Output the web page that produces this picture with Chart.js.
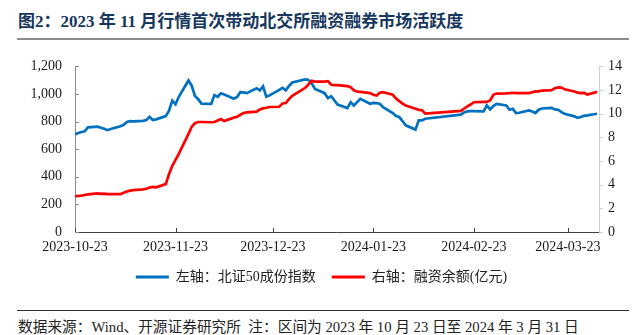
<!DOCTYPE html>
<html>
<head>
<meta charset="utf-8">
<script src="https://cdn.jsdelivr.net/npm/chart.js@4.4.1/dist/chart.umd.min.js"></script>
<style>
  html, body { margin: 0; padding: 0; background: #fff; }
  body { width: 643px; height: 335px; position: relative; overflow: hidden; }
  .title {
    position: absolute; left: 18px; top: 7px;
    font: bold 17px 'Liberation Serif', 'Noto Sans CJK SC', serif;
    color: #17375e; white-space: nowrap;
  }
  .rule-top { position: absolute; left: 17px; top: 38px; width: 612px; height: 2px; background: #8c8c8c; }
  .chart-box { position: absolute; left: 0; top: 45px; width: 643px; height: 249px; }
  .rule-bottom { position: absolute; left: 17px; top: 310px; width: 612px; height: 1px; background: #333; }
  .source {
    position: absolute; left: 18px; top: 315px;
    font: 14.7px 'Liberation Serif', 'Noto Sans CJK SC', serif;
    color: #222; white-space: nowrap;
  }
</style>
</head>
<body>
<div class="title">图2：2023 年 11 月行情首次带动北交所融资融券市场活跃度</div>
<div class="rule-top"></div>
<div class="chart-box"><canvas id="bjChart"></canvas></div>
<div class="rule-bottom"></div>
<div class="source">数据来源：Wind、开源证券研究所&nbsp;&nbsp;注：区间为 2023 年 10 月 23 日至 2024 年 3 月 31 日</div>

<script>
// trading days (the Spring Festival break leaves a gap in February)
const tradeDates = [
    '2023-10-23', '2023-10-24', '2023-10-25', '2023-10-26', '2023-10-27', '2023-10-30', '2023-10-31',
    '2023-11-01', '2023-11-02', '2023-11-03', '2023-11-06', '2023-11-07', '2023-11-08', '2023-11-09', '2023-11-10',
    '2023-11-13', '2023-11-14', '2023-11-15', '2023-11-16', '2023-11-17', '2023-11-20', '2023-11-21', '2023-11-22',
    '2023-11-23', '2023-11-24', '2023-11-27', '2023-11-28', '2023-11-29', '2023-11-30',
    '2023-12-01', '2023-12-04', '2023-12-05', '2023-12-06', '2023-12-07', '2023-12-08', '2023-12-11', '2023-12-12',
    '2023-12-13', '2023-12-14', '2023-12-15', '2023-12-18', '2023-12-19', '2023-12-20', '2023-12-21', '2023-12-22',
    '2023-12-25', '2023-12-26', '2023-12-27', '2023-12-28', '2023-12-29',
    '2024-01-02', '2024-01-03', '2024-01-04', '2024-01-05', '2024-01-08', '2024-01-09', '2024-01-10', '2024-01-11',
    '2024-01-12', '2024-01-15', '2024-01-16', '2024-01-17', '2024-01-18', '2024-01-19', '2024-01-22', '2024-01-23',
    '2024-01-24', '2024-01-25', '2024-01-26', '2024-01-29', '2024-01-30', '2024-01-31',
    '2024-02-01', '2024-02-02', '2024-02-05', '2024-02-06', '2024-02-07', '2024-02-08', '2024-02-19', '2024-02-20',
    '2024-02-21', '2024-02-22', '2024-02-23', '2024-02-26', '2024-02-27', '2024-02-28', '2024-02-29',
    '2024-03-01', '2024-03-04', '2024-03-05', '2024-03-06', '2024-03-07', '2024-03-08', '2024-03-11', '2024-03-12',
    '2024-03-13', '2024-03-14', '2024-03-15', '2024-03-18', '2024-03-19', '2024-03-20', '2024-03-21', '2024-03-22',
    '2024-03-25', '2024-03-26', '2024-03-27', '2024-03-28', '2024-03-29', '2024-04-01'
];

// 北证50成份指数 (left axis)
const bj50Index = [
    707, 717, 725, 730, 758, 763, 756,
    748, 738, 746, 766, 777, 797, 803, 802, 805, 811, 834, 811, 816, 840, 879, 952, 925, 980, 1098, 1059, 986, 962,
    930, 928, 992, 980, 1005, 996, 966, 978, 1014, 1012, 1006, 1042, 1026, 1055, 980, 990, 1030, 1045, 1027, 1058, 1083,
    1106, 1102, 1078, 1037, 1006, 970, 984, 953, 924, 898, 941, 917, 941, 965, 929, 936, 934, 929, 905, 862, 840, 833,
    804, 773, 742, 809, 809, 821, 850, 866, 874, 876, 876, 874, 917, 888, 912,
    928, 917, 886, 893, 862, 864, 881, 874, 862, 886, 895, 900, 888, 886, 869, 857, 838, 828, 833, 842, 845, 857
];

// 融资余额, 亿元 (right axis)
const marginBalance = [
    3.03, 3.05, 3.08, 3.13, 3.18, 3.26, 3.23,
    3.25, 3.21, 3.20, 3.20, 3.32, 3.42, 3.50, 3.54, 3.60, 3.66, 3.76, 3.81, 3.78, 4.05, 4.90, 5.60, 6.10, 6.60, 8.30, 8.90, 9.20, 9.30,
    9.30, 9.28, 9.30, 9.43, 9.55, 9.38, 9.67, 9.75, 9.91, 10.06, 10.11, 10.18, 10.35, 10.45, 10.50, 10.57, 10.59, 10.87, 10.90, 11.23, 11.51,
    12.19, 12.47, 12.78, 12.72, 12.72, 12.75, 12.45, 12.42, 12.42, 12.33, 12.25, 11.98, 11.88, 11.85, 11.74, 11.60, 11.54, 11.78, 11.82, 11.60, 11.28, 11.06,
    10.85, 10.70, 10.42, 10.33, 10.30, 10.00, 10.24, 10.42, 10.62, 10.78, 10.97, 11.00, 11.00, 11.12, 11.60,
    11.70, 11.72, 11.74, 11.77, 11.74, 11.74, 11.74, 11.82, 11.89, 11.89, 11.96, 11.99, 12.16, 12.23, 12.21, 12.06, 11.88, 11.78, 11.74, 11.76, 11.62, 11.85
];

const tickLabels = ['2023-10-23', '2023-11-23', '2023-12-23', '2024-01-23', '2024-02-23', '2024-03-23'];
const legendNames = ['左轴：北证50成份指数', '右轴：融资余额(亿元)'];

const DAY = 864e5;
const dayOf = s => (Date.parse(s) - Date.parse(tradeDates[0])) / DAY;
const tickDays = tickLabels.map(dayOf);

const serif = "'Liberation Serif', 'Noto Sans CJK SC', serif";

// small tick marks: x and left axis point inward, right axis outward
const axisTicks = {
    id: 'axisTicks',
    afterDraw(chart) {
        const { ctx, chartArea, scales: { x, y, y1 } } = chart;
        ctx.save();
        ctx.lineWidth = 1;
        ctx.strokeStyle = '#404040';
        x.ticks.forEach(t => {
            const px = Math.round(x.getPixelForValue(t.value)) + 0.5;
            ctx.beginPath();
            ctx.moveTo(px, chartArea.bottom);
            ctx.lineTo(px, chartArea.bottom - 4);
            ctx.stroke();
        });
        ctx.strokeStyle = '#8a8a8a';
        y.ticks.forEach(t => {
            const py = Math.round(y.getPixelForValue(t.value)) + 0.5;
            ctx.beginPath();
            ctx.moveTo(chartArea.left, py);
            ctx.lineTo(chartArea.left + 4, py);
            ctx.stroke();
        });
        ctx.strokeStyle = '#d0d0d0';
        y1.ticks.forEach(t => {
            const py = Math.round(y1.getPixelForValue(t.value)) + 0.5;
            ctx.beginPath();
            ctx.moveTo(chartArea.right, py);
            ctx.lineTo(chartArea.right + 4, py);
            ctx.stroke();
        });
        ctx.restore();
    }
};

const ctx = document.getElementById('bjChart').getContext('2d');
new Chart(ctx, {
    type: 'line',
    data: {
        datasets: [{
            label: legendNames[0],
            data: tradeDates.map((d, i) => ({ x: dayOf(d), y: bj50Index[i] })),
            borderColor: '#0070c0',
            backgroundColor: '#0070c0',
            borderWidth: 2.7,
            yAxisID: 'y',
            order: 2
        }, {
            label: legendNames[1],
            data: tradeDates.map((d, i) => ({ x: dayOf(d), y: marginBalance[i] })),
            borderColor: '#ff0000',
            backgroundColor: '#ff0000',
            borderWidth: 2.7,
            yAxisID: 'y1',
            order: 1
        }]
    },
    options: {
        responsive: true,
        maintainAspectRatio: false,
        animation: false,
        elements: { point: { radius: 0 }, line: { tension: 0 } },
        layout: { padding: { top: 15, left: 0, right: 0, bottom: 0 } },
        plugins: {
            tooltip: { enabled: false },
            legend: {
                position: 'bottom',
                labels: {
                    font: { family: serif, size: 14 },
                    color: '#222',
                    boxWidth: 33,
                    boxHeight: 3,
                    padding: 16,
                    sort: (a, b) => a.datasetIndex - b.datasetIndex,
                    generateLabels: chart => Chart.defaults.plugins.legend.labels.generateLabels(chart)
                        .map(l => ({ ...l, lineWidth: 0 }))
                }
            }
        },
        scales: {
            x: {
                type: 'linear',
                min: 0,
                max: 161.6,
                afterBuildTicks: scale => { scale.ticks = tickDays.map(v => ({ value: v })); },
                afterFit: scale => { scale.height = 22; },
                grid: { display: false, drawTicks: false },
                border: { color: '#404040', width: 1 },
                ticks: {
                    autoSkip: false,
                    maxRotation: 0,
                    padding: 7,
                    font: { family: serif, size: 14 },
                    color: '#1a1a1a',
                    callback: v => tickLabels[tickDays.indexOf(v)]
                }
            },
            y: {
                position: 'left',
                min: 0,
                max: 1200,
                afterFit: scale => { scale.width = 75; },
                grid: { display: false, drawTicks: false },
                border: { color: '#8a8a8a', width: 1 },
                ticks: {
                    stepSize: 200,
                    padding: 13,
                    font: { family: serif, size: 14 },
                    color: '#1a1a1a',
                    callback: v => v.toLocaleString('en-US')
                }
            },
            y1: {
                position: 'right',
                min: 0,
                max: 14,
                afterFit: scale => { scale.width = 44; },
                grid: { display: false, drawTicks: false },
                border: { color: '#d0d0d0', width: 1 },
                ticks: {
                    stepSize: 2,
                    padding: 9,
                    font: { family: serif, size: 14 },
                    color: '#1a1a1a'
                }
            }
        }
    },
    plugins: [axisTicks]
});
</script>
</body>
</html>
